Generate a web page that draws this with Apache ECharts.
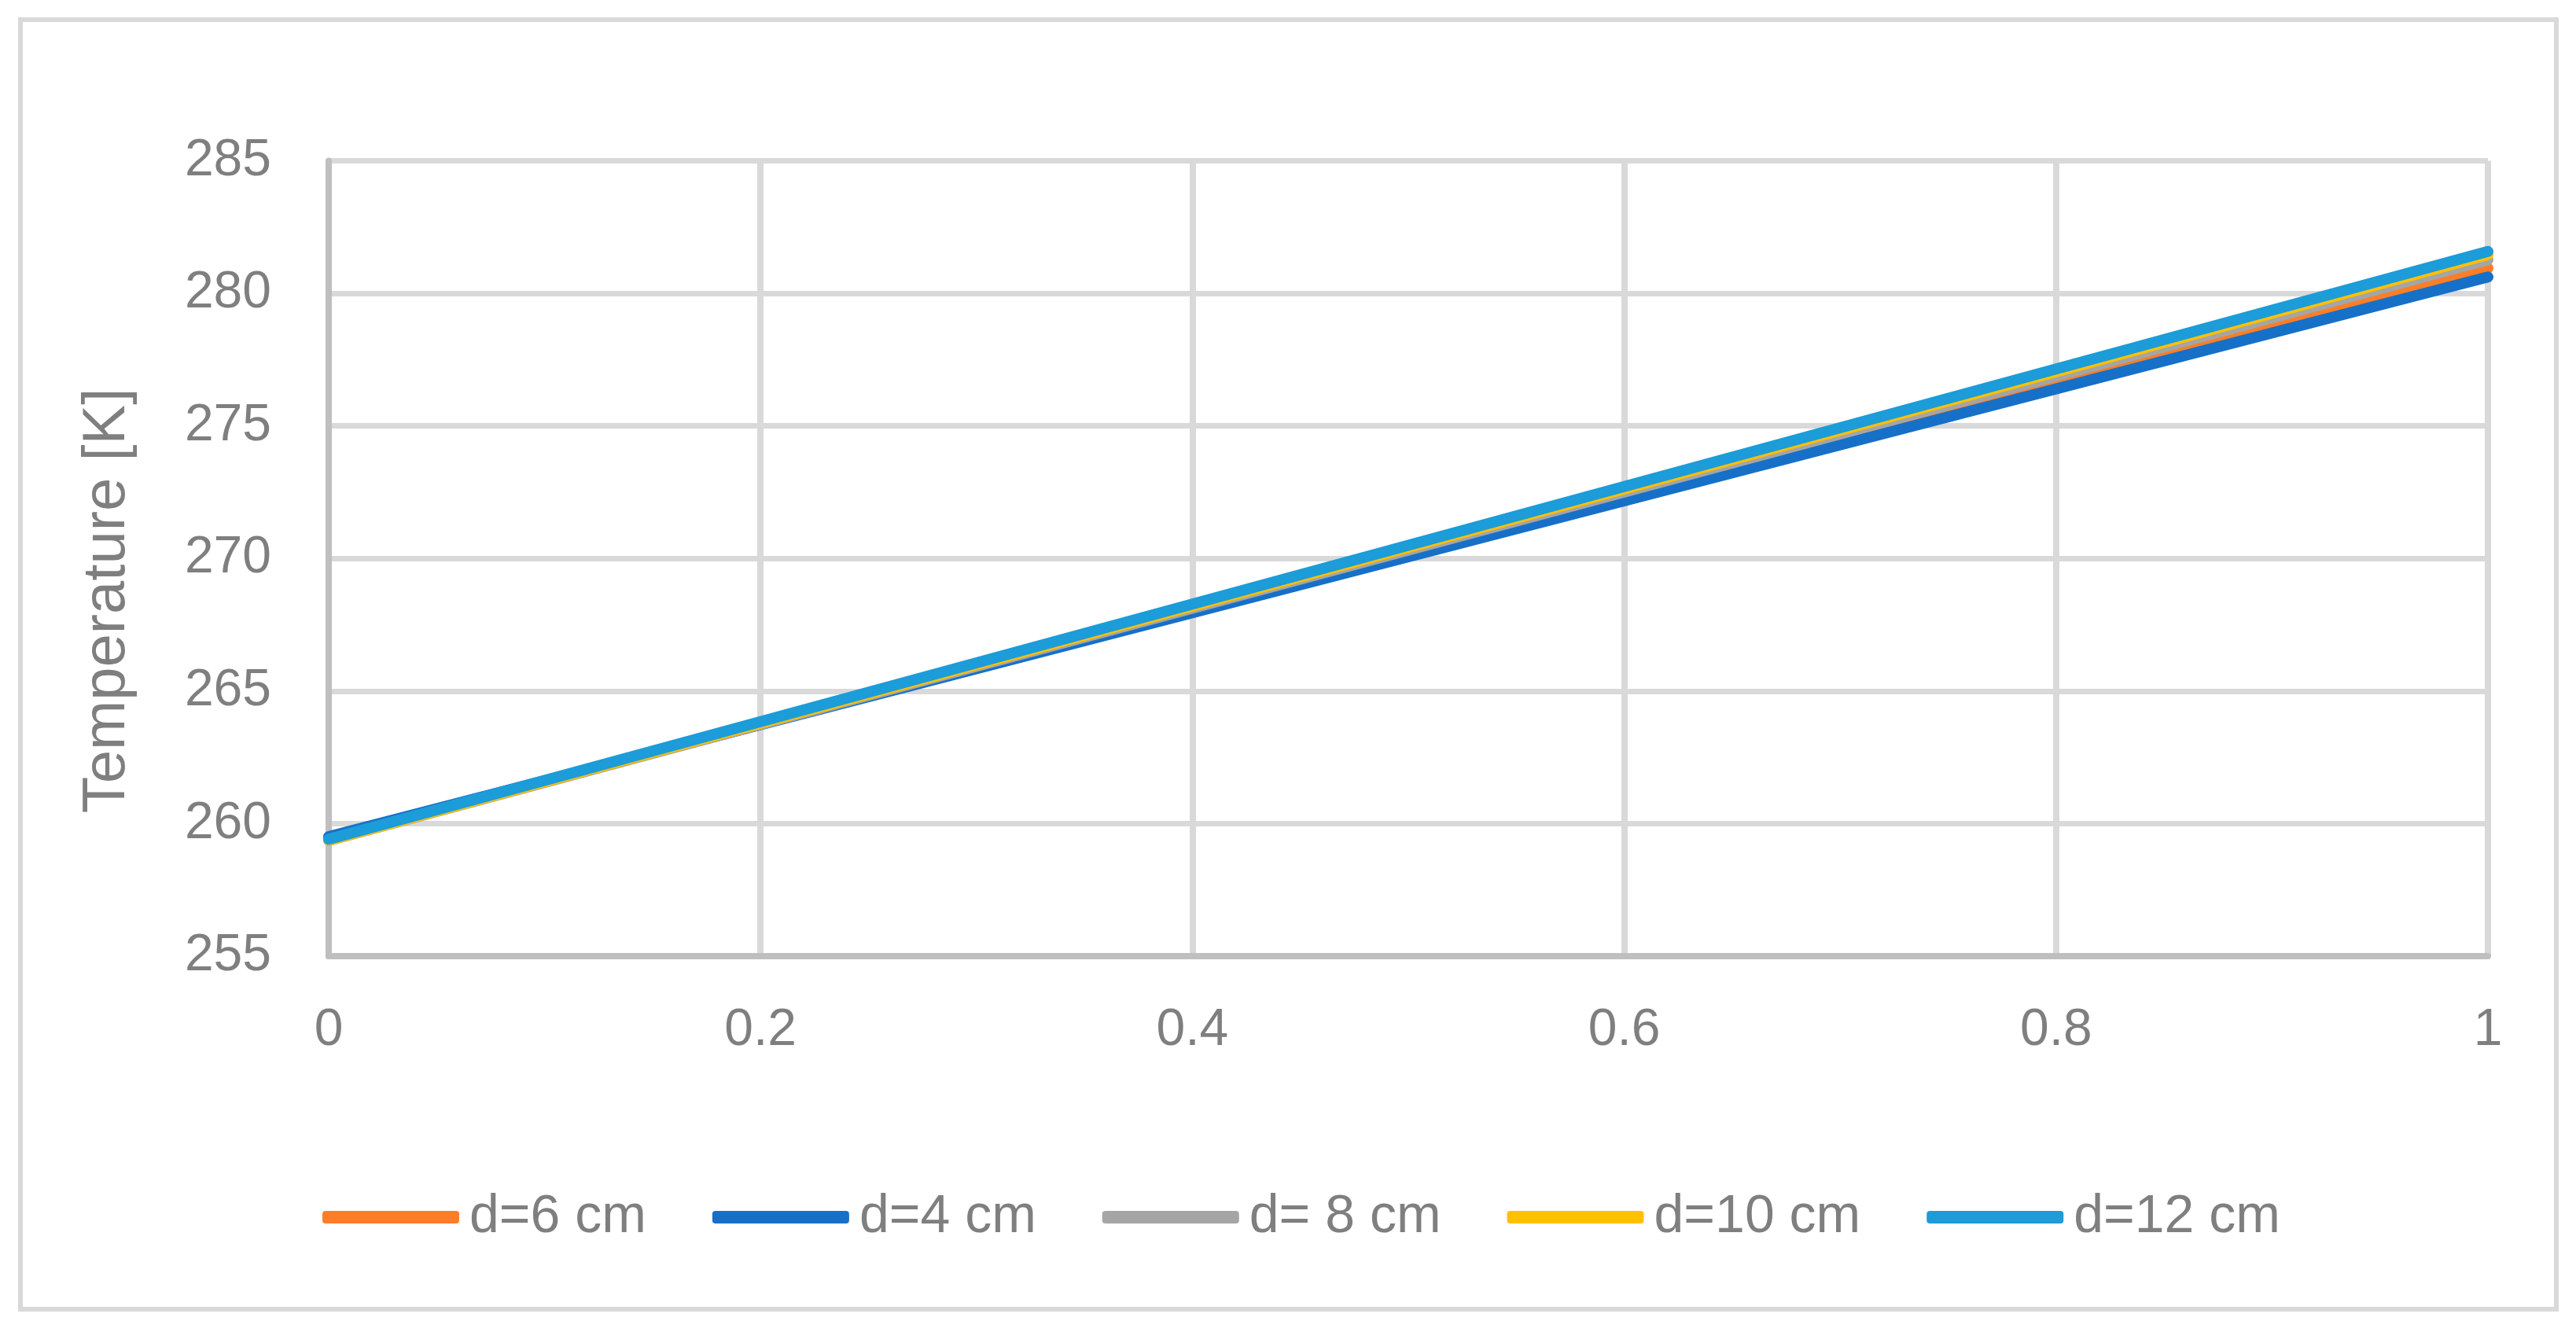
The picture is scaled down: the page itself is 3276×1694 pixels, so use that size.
<!DOCTYPE html>
<html>
<head>
<meta charset="utf-8">
<script src="https://cdn.jsdelivr.net/npm/echarts@6/dist/echarts.min.js"></script>
<style>
html,body{margin:0;padding:0;background:#fff;}
#chart{width:3276px;height:1694px;}
</style>
</head>
<body>
<div id="chart"></div>
<script>
// Data
const xValues = [0, 1];
const seriesNames = ['d=6 cm', 'd=4 cm', 'd= 8 cm', 'd=10 cm', 'd=12 cm'];
const d6 = [259.45, 280.95];
const d4 = [259.51, 280.62];
const d8 = [259.36, 281.27];
const d10 = [259.37, 281.46];
const d12 = [259.41, 281.58];
const seriesValues = [d6, d4, d8, d10, d12];
const seriesColors = ['#FD7E26', '#1670C8', '#A5A5A5', '#FFC000', '#1C9CD8'];
const yTitle = 'Temperature [K]';

const FONT = '"Liberation Sans", Arial, sans-serif';
const TXT = '#7f7f7f';

const chart = echarts.init(document.getElementById('chart'), null, {renderer: 'canvas'});

const series = seriesNames.map((name, i) => ({
  name: name,
  type: 'line',
  data: xValues.map((x, j) => [x, seriesValues[i][j]]),
  showSymbol: false,
  symbol: 'none',
  lineStyle: {width: 14, color: seriesColors[i], cap: 'round'},
  itemStyle: {color: seriesColors[i]},
  z: 3 + i
}));

chart.setOption({
  backgroundColor: '#fff',
  animation: false,
  grid: {left: 418, right: 112, top: 204.5, bottom: 478, containLabel: false},
  xAxis: {
    type: 'value', min: 0, max: 1, interval: 0.2,
    axisLine: {show: true, lineStyle: {color: '#bfbfbf', width: 8}},
    axisTick: {show: false},
    axisLabel: {color: TXT, fontSize: 66, fontFamily: FONT, margin: 62},
    splitLine: {show: true, lineStyle: {color: '#d9d9d9', width: 8}}
  },
  yAxis: {
    type: 'value', min: 255, max: 285, interval: 5,
    axisLine: {show: true, onZero: false, lineStyle: {color: '#bfbfbf', width: 8}},
    axisTick: {show: false},
    axisLabel: {color: TXT, fontSize: 66, fontFamily: FONT, margin: 73},
    splitLine: {show: true, lineStyle: {color: '#d9d9d9', width: 7}}
  },
  legend: {
    data: seriesNames,
    left: 405,
    top: 1509,
    icon: 'roundRect',
    itemWidth: 174,
    itemHeight: 16,
    itemGap: 84,
    textStyle: {color: TXT, fontSize: 68, fontFamily: FONT, padding: [0, 0, 0, 8]}
  },
  graphic: [
    {
      type: 'rect',
      shape: {x: 26, y: 25, width: 3225, height: 1640},
      style: {fill: 'none', stroke: '#d9d9d9', lineWidth: 6},
      silent: true,
      z: -10
    },
    {
      type: 'text',
      x: 137, y: 764,
      rotation: Math.PI / 2,
      style: {text: yTitle, fill: TXT, font: '76px "Liberation Sans", Arial, sans-serif', textAlign: 'center', textVerticalAlign: 'middle'}
    }
  ],
  series: series
});
</script>
</body>
</html>
